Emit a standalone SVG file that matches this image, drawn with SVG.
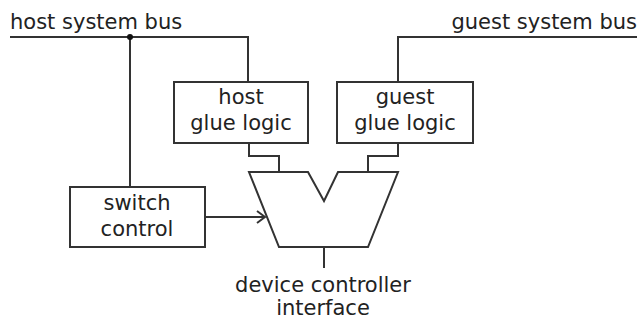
<svg xmlns="http://www.w3.org/2000/svg" width="644" height="320" viewBox="0 0 644 320">
<defs>
<style>
.ln{fill:none;stroke:#333;stroke-width:2}
.bx{fill:#fff;stroke:#333;stroke-width:2}
text{font-family:"DejaVu Sans",sans-serif;font-size:21px;fill:#222;text-anchor:middle}
</style>
<marker id="arr" markerWidth="12" markerHeight="14" refX="10" refY="7" orient="auto" markerUnits="userSpaceOnUse">
<path d="M2,1 L10,7 L2,13" fill="none" stroke="#333" stroke-width="2"/>
</marker>
</defs>
<g id="connectors">
<path class="ln" d="M10,37 H248 V82"/>
<path class="ln" d="M637,37 H398 V82"/>
<path class="ln" d="M130,37 V187"/>
<circle cx="130" cy="37" r="3" fill="#111"/>
<path class="ln" d="M249,143 V156 H279 V172"/>
<path class="ln" d="M398,143 V156 H368 V172"/>
<path class="ln" d="M205,217 H265" marker-end="url(#arr)"/>
<path class="ln" d="M324,247 V268"/>
</g>
<g id="host-bus-label"><text x="10" y="29" style="text-anchor:start">host system bus</text></g>
<g id="guest-bus-label"><text x="637" y="29" style="text-anchor:end">guest system bus</text></g>
<g id="host-glue">
<rect class="bx" x="174" y="82" width="134" height="61"/>
<text x="241" y="104">host</text>
<text x="241" y="130">glue logic</text>
</g>
<g id="guest-glue">
<rect class="bx" x="337" y="82" width="136" height="61"/>
<text x="405" y="104">guest</text>
<text x="405" y="130">glue logic</text>
</g>
<g id="switch-control">
<rect class="bx" x="70" y="187" width="135" height="60"/>
<text x="137" y="210">switch</text>
<text x="137" y="236">control</text>
</g>
<g id="mux">
<path class="bx" d="M249,172 H308 L324,201 L338,172 H398 L368,247 H279 Z"/>
</g>
<g id="device-label">
<text x="323" y="292">device controller</text>
<text x="323" y="315">interface</text>
</g>
</svg>
